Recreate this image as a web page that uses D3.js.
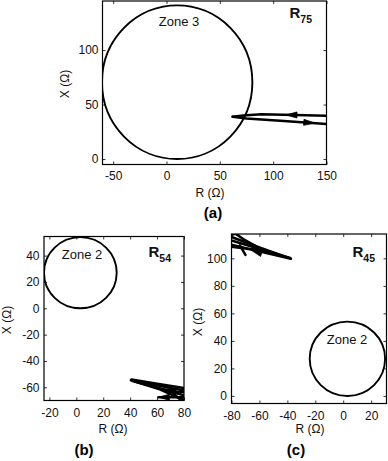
<!DOCTYPE html>
<html><head><meta charset="utf-8">
<script src="https://cdn.jsdelivr.net/npm/d3@7"></script>
<style>
body{margin:0;background:#fff;}
svg{display:block;font-family:"Liberation Sans",Arial,Helvetica,sans-serif;}
</style></head>
<body>
<svg id="chart" width="388" height="461"></svg>
<script>
// ---------- data ----------
// Panel (a): R75, Zone 3
const aXTicks = [-50, 0, 50, 100, 150];
const aYTicks = [0, 50, 100];
const aXDomain = [-60, 150];
const aYDomain = [-5, 145];
const aCircle = [10, 70.5, 70.5];            // centre R, centre X, radius
const aTraj = [
  [[150, 39.8], [120, 40.3], [89, 41.0], [72, 40.0], [62, 38.9]],
  [[62, 38.7], [75, 37.3], [110, 35.0], [150, 32.2]]
];
const aArrows = [                            // [tip, tail]
  [[112, 40.5], [124, 40.4]],
  [[139, 33.0], [127, 33.8]]
];

// Panel (b): R54, Zone 2
const bXTicks = [-20, 0, 20, 40, 60, 80];
const bYTicks = [-60, -40, -20, 0, 20, 40];
const bXDomain = [-24, 80];
const bYDomain = [-70, 54.5];
const bCircle = [3, 27, 27];
const bTraj = [
  [[80, -60.5], [60, -57.3], [41, -54.0], [60, -60.5], [80, -66.0]],
  [[80, -62.5], [40.5, -54.6], [62, -61.5], [80, -69.8]],
  [[80, -67.5], [61, -67.5]],
  [[80, -63.6], [69, -63.6]],
  [[42, -55.2], [70, -63.0], [78, -70]]
];
const bArrows = [
  [[61, -67.5], [67, -67.5]],
  [[66, -61.2], [72, -62.8]]
];

// Panel (c): R45, Zone 2
const cXTicks = [-80, -60, -40, -20, 0, 20];
const cYTicks = [0, 20, 40, 60, 80, 100];
const cXDomain = [-80, 31];
const cYDomain = [-5.5, 117.7];
const cCircle = [3, 27, 27];
const cTraj = [
  [[-80, 115.5], [-60, 108.0], [-37.5, 99.7], [-55, 103.8], [-80, 110.0]],
  [[-80, 113.0], [-38, 100.3], [-62, 106.0], [-80, 108.5]],
  [[-80, 117.2], [-74, 118.5]],
  [[-78, 118.5], [-70, 113.0], [-62, 108.5]],
  [[-74, 109.5], [-70, 102.5]]
];
const cArrows = [
  [[-66, 106.0], [-60, 104.0]]
];

// ---------- drawing ----------
const svg = d3.select("#chart");
const FONT = 12;

function panel(cfg) {
  const x = d3.scaleLinear().domain(cfg.xDomain).range([cfg.box[0], cfg.box[1]]);
  const y = d3.scaleLinear().domain(cfg.yDomain).range([cfg.box[3], cfg.box[2]]);
  const g = svg.append("g");
  const id = "clip" + cfg.name;
  svg.append("clipPath").attr("id", id).append("rect")
    .attr("x", cfg.box[0]).attr("y", cfg.box[2])
    .attr("width", cfg.box[1] - cfg.box[0]).attr("height", cfg.box[3] - cfg.box[2]);

  const styleAxis = sel => {
    sel.select(".domain").remove();
    sel.selectAll("line").attr("stroke", "#000").attr("stroke-width", 0.8);
    sel.selectAll("text").attr("font-size", FONT).attr("fill", "#111")
       .attr("font-family", "Liberation Sans, Arial, sans-serif");
  };
  g.append("g").attr("transform", `translate(0,${cfg.box[3]})`)
    .call(d3.axisBottom(x).tickValues(cfg.xTicks).tickSize(-3).tickPadding(cfg.xPad).tickFormat(d3.format("d")))
    .call(styleAxis);
  g.append("g").attr("transform", `translate(0,${cfg.box[2]})`)
    .call(d3.axisTop(x).tickValues(cfg.xTicks).tickSize(-3).tickFormat(""))
    .call(styleAxis);
  g.append("g").attr("transform", `translate(${cfg.box[0]},0)`)
    .call(d3.axisLeft(y).tickValues(cfg.yTicks).tickSize(-3).tickPadding(cfg.yPad).tickFormat(d3.format("d")))
    .call(styleAxis);
  g.append("g").attr("transform", `translate(${cfg.box[1]},0)`)
    .call(d3.axisRight(y).tickValues(cfg.yTicks).tickSize(-3).tickFormat(""))
    .call(styleAxis);
  g.selectAll(".tick text").text(function(){ return d3.select(this).text().replace("\u2212", "-"); });

  g.append("rect")
    .attr("x", cfg.box[0]).attr("y", cfg.box[2])
    .attr("width", cfg.box[1] - cfg.box[0]).attr("height", cfg.box[3] - cfg.box[2])
    .attr("fill", "none").attr("stroke", "#000").attr("stroke-width", 1.2);

  const plot = g.append("g").attr("clip-path", `url(#${id})`);
  const [ccx, ccy, cr] = cfg.circle;
  plot.append("ellipse")
    .attr("cx", x(ccx)).attr("cy", y(ccy))
    .attr("rx", Math.abs(x(ccx + cr) - x(ccx)))
    .attr("ry", Math.abs(y(ccy + cr) - y(ccy)))
    .attr("fill", "none").attr("stroke", "#000").attr("stroke-width", 1.9);

  const line = d3.line().x(d => x(d[0])).y(d => y(d[1]));
  plot.selectAll("path.traj").data(cfg.traj).join("path")
    .attr("class", "traj").attr("d", line)
    .attr("fill", "none").attr("stroke", "#000")
    .attr("stroke-width", 2.5).attr("stroke-linejoin", "round").attr("stroke-linecap", "round");

  plot.selectAll("path.arrow").data(cfg.arrows).join("path")
    .attr("class", "arrow")
    .attr("d", a => {
      const tx = x(a[0][0]), ty = y(a[0][1]), bx = x(a[1][0]), by = y(a[1][1]);
      const dx = bx - tx, dy = by - ty, L = Math.hypot(dx, dy);
      const ux = dx / L, uy = dy / L, len = 11, w = 3;
      const px = tx + ux * len, py = ty + uy * len;
      return `M${tx},${ty}L${px - uy * w},${py + ux * w}L${px + uy * w},${py - ux * w}Z`;
    })
    .attr("fill", "#000").attr("stroke", "#000").attr("stroke-width", 0.8);

  g.append("text").attr("x", cfg.zonePos[0]).attr("y", cfg.zonePos[1])
    .attr("text-anchor", "middle").attr("font-size", 13).attr("fill", "#111").text(cfg.zone);
  const rl = g.append("text").attr("x", cfg.relPos[0]).attr("y", cfg.relPos[1])
    .attr("font-weight", "bold").attr("font-size", 15).attr("fill", "#111");
  rl.append("tspan").text("R");
  rl.append("tspan").attr("font-size", 10.5).attr("dy", 5).text(cfg.rel);

  g.append("text").attr("x", cfg.xLab[0]).attr("y", cfg.xLab[1])
    .attr("text-anchor", "middle").attr("font-size", FONT).attr("fill", "#111").text("R (\u03A9)");
  g.append("text").attr("transform", `translate(${cfg.yLab[0]},${cfg.yLab[1]}) rotate(-90)`)
    .attr("text-anchor", "middle").attr("font-size", FONT).attr("fill", "#111").text("X (\u03A9)");
  g.append("text").attr("x", cfg.letterPos[0]).attr("y", cfg.letterPos[1])
    .attr("text-anchor", "middle").attr("font-size", 15).attr("font-weight", "bold").attr("fill", "#000")
    .text(cfg.letter);
}

panel({name: "a", box: [102.5, 326.5, 1, 164.5], xDomain: aXDomain, yDomain: aYDomain,
  xTicks: aXTicks, yTicks: aYTicks, circle: aCircle, traj: aTraj, arrows: aArrows,
  xPad: 7, yPad: 4, zone: "Zone 3", zonePos: [179, 26], rel: "75", relPos: [289.5, 18],
  xLab: [210, 197], yLab: [69, 84], letter: "(a)", letterPos: [213, 218]});

panel({name: "b", box: [44, 184, 236.5, 400.5], xDomain: bXDomain, yDomain: bYDomain,
  xTicks: bXTicks, yTicks: bYTicks, circle: bCircle, traj: bTraj, arrows: bArrows,
  xPad: 8, yPad: 4.5, zone: "Zone 2", zonePos: [82, 259], rel: "54", relPos: [148.5, 256.5],
  xLab: [113, 433], yLab: [11, 320], letter: "(b)", letterPos: [84, 455]});

panel({name: "c", box: [231.5, 386.5, 234, 403.5], xDomain: cXDomain, yDomain: cYDomain,
  xTicks: cXTicks, yTicks: cYTicks, circle: cCircle, traj: cTraj, arrows: cArrows,
  xPad: 8, yPad: 4.5, zone: "Zone 2", zonePos: [347, 343.5], rel: "45", relPos: [352.5, 257],
  xLab: [310, 433], yLab: [202, 322], letter: "(c)", letterPos: [296, 455]});
</script>
</body></html>
